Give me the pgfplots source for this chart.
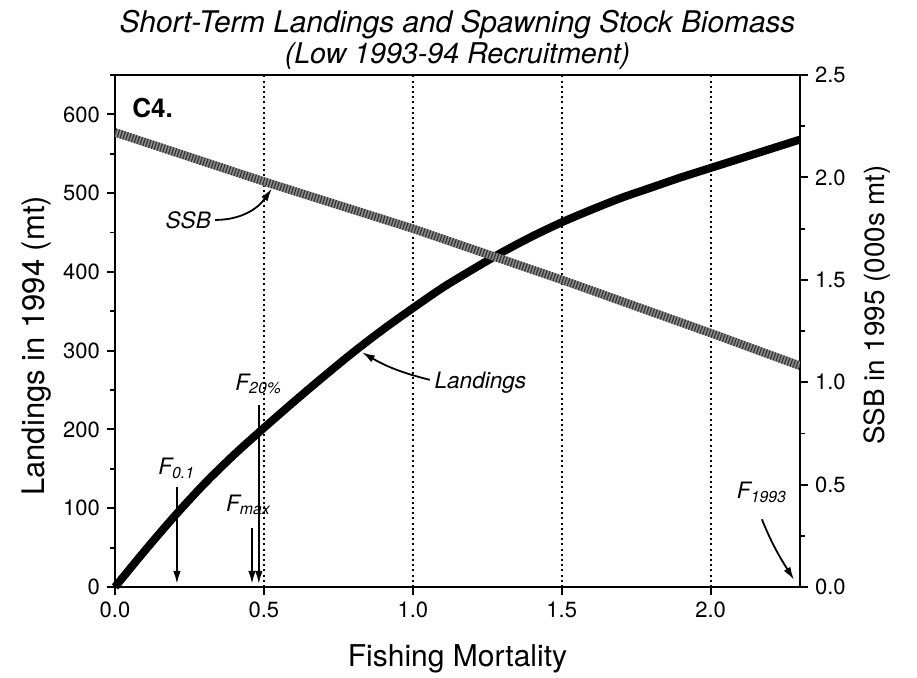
\documentclass[border=0pt]{standalone}
\usepackage{pgfplots}
\usepackage{pgfplotstable}
\pgfplotsset{compat=1.18}
\usepackage{fontspec}
\setmainfont{TeX Gyre Heros}
\usetikzlibrary{arrows.meta}

\pgfplotstableread{
F Landings
0.0 0
0.1 46
0.2 90
0.3 131
0.4 168
0.5 202
0.6 235
0.7 267
0.8 298
0.9 327
1.0 354
1.1 380
1.2 403
1.3 425
1.4 445
1.5 463
1.6 479
1.7 494
1.8 507
1.9 520
2.0 532
2.1 544
2.2 556
2.3 568
}\landtab

\pgfplotstableread{
F SSB
0.00 2.22
0.25 2.10
0.50 1.98
0.75 1.865
1.00 1.75
1.25 1.625
1.50 1.50
1.75 1.37
2.00 1.24
2.15 1.16
2.30 1.08
}\ssbtab

\pgfplotsset{
  common/.style={
    at={(0,0)}, anchor=south west, scale only axis,
    width=342.5pt, height=256pt, xmin=0, xmax=2.3,
    /pgf/number format/assume math mode=true,
    tick label style={font=\fontsize{11}{13}\selectfont},
    tick align=outside, major tick length=4pt, minor tick length=2.5pt,
    axis line style={line width=1.3pt},
    every tick/.style={black, line width=1pt},
    every minor tick/.style={black, line width=0.9pt},
  },
}
\tikzset{
  ann/.style={-{Latex[length=6.5pt,width=3.8pt]}, line width=0.9pt},
  annfont/.style={font=\fontsize{11.3}{13}\selectfont\itshape},
}

\begin{document}
\begin{tikzpicture}
\useasboundingbox (-57.5pt,-45pt) rectangle (401pt,293.5pt);
\begin{axis}[common,
  ymin=0, ymax=650,
  xtick={0,0.5,1,1.5,2}, xtick pos=bottom,
  ytick={0,100,...,600}, ytick pos=left,
  minor ytick={50,150,...,650},
  xticklabel style={/pgf/number format/.cd, fixed, fixed zerofill, precision=1},
  xmajorgrids, major grid style={black, line width=0.9pt, dash pattern=on 1pt off 1.6pt},
  xlabel={Fishing Mortality},
  xlabel style={at={(axis description cs:0.5,-0.156)}, anchor=base, font=\fontsize{15}{17}\selectfont},
  ylabel={Landings in 1994 (mt)},
  ylabel style={at={(axis description cs:-0.114,0.471)}, anchor=center, font=\fontsize{15.5}{17}\selectfont},
  clip=false,
]
\addplot[black, line width=4pt, smooth] table[x=F, y=Landings] {\landtab};

% titles
\node[anchor=base, inner sep=0, font=\fontsize{14.9}{17}\selectfont\itshape] at (axis description cs:0.5,1.083) {Short-Term Landings and Spawning Stock Biomass};
\node[anchor=base, inner sep=0, font=\fontsize{14.3}{16}\selectfont\itshape] at (axis description cs:0.5,1.0234) {(Low 1993-94 Recruitment)};

% panel tag
\node[anchor=base west, inner sep=0, font=\fontsize{13}{15}\selectfont\bfseries] at (axis cs:0.057,596) {C4.};

% curve labels
\node[anchor=east, inner sep=1pt, annfont] at (axis cs:0.33,466) {SSB};
\draw[ann] (axis cs:0.336,466) to[out=0,in=235] (axis cs:0.527,506);
\node[anchor=west, inner sep=1pt, annfont] at (axis cs:1.065,259) {Landings};
\draw[ann] (axis cs:1.057,263) to[bend left=8] (axis cs:0.829,298);

% reference points
\node[anchor=base west, inner sep=0, annfont] at (axis cs:0.144,143) {F\textsubscript{0.1}};
\draw[ann] (axis cs:0.208,127) -- (axis cs:0.208,4);
\node[anchor=base west, inner sep=0, annfont] at (axis cs:0.403,250) {F\textsubscript{20\%}};
\draw[ann] (axis cs:0.483,231) -- (axis cs:0.483,4);
\node[anchor=base west, inner sep=0, annfont] at (axis cs:0.372,96) {F\textsubscript{max}};
\draw[ann] (axis cs:0.460,75) -- (axis cs:0.460,4);
\node[anchor=base west, inner sep=0, annfont] at (axis cs:2.087,112) {F\textsubscript{1993}};
\draw[ann] (axis cs:2.172,86) to[out=-68,in=122] (axis cs:2.28,9);
\end{axis}

\begin{axis}[common,
  ymin=0, ymax=2.5,
  axis x line=none, axis y line*=right,
  ytick={0,0.5,...,2.5}, minor ytick={0.25,0.75,...,2.25},
  yticklabel style={/pgf/number format/.cd, fixed, fixed zerofill, precision=1},
  ylabel={SSB in 1995 (000s mt)},
  ylabel style={at={(axis description cs:1.1124,0.551)}, anchor=center, rotate=0, font=\fontsize{13.9}{16}\selectfont},
]
\addplot[black!45, line width=4.2pt] table[x=F, y=SSB] {\ssbtab};
\addplot[black!80, line width=4.2pt, dash pattern=on 0.6pt off 0.9pt] table[x=F, y=SSB] {\ssbtab};
\end{axis}
\end{tikzpicture}
\end{document}
